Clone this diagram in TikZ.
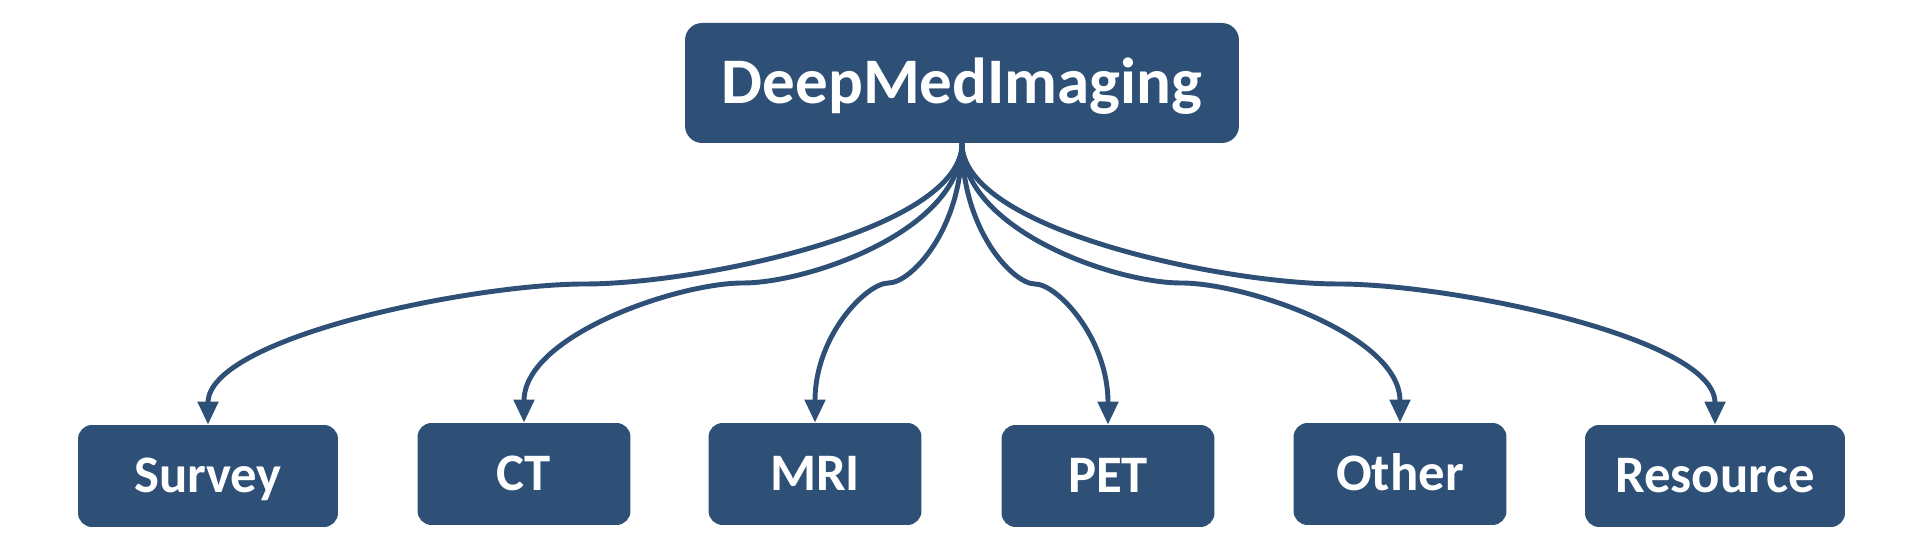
\documentclass[tikz,border=0pt]{standalone}
\usepackage{fontspec}
\setmainfont{Carlito}
\usetikzlibrary{arrows.meta, positioning, calc}
\definecolor{navy}{HTML}{2E5077}

\begin{document}
\begin{tikzpicture}[x = 0.02cm, y = 0.02cm,
    box/.style = {fill = navy, text = white, rounded corners = 0.28cm, inner sep = 0pt,
      minimum height = 2.04cm, text height = 19.3pt, text depth = 0pt,
      font = \bfseries\fontsize{30}{36}\selectfont},
    link/.style = {draw = navy, line width = 2.8pt,
      -{Triangle[length = 0.46cm, width = 0.4cm]}}]
  \useasboundingbox (0,0) rectangle (1920,546);
  \node[box, minimum width = 11.08cm, minimum height = 2.4cm, rounded corners = 0.34cm,
    text height = 23.8pt, font = \bfseries\fontsize{37}{44}\selectfont] (root) at (962,463) {DeepMedImaging};
  \node[box, minimum width = 5.2cm]  (survey)   at (208,70)  {Survey};
  \node[box, minimum width = 4.26cm] (ct)       at (524,72)  {CT};
  \node[box, minimum width = 4.26cm] (mri)      at (815,72)  {MRI};
  \node[box, minimum width = 4.26cm] (pet)      at (1108,70) {PET};
  \node[box, minimum width = 4.26cm] (other)    at (1400,72) {Other};
  \node[box, minimum width = 5.2cm]  (resource) at (1715,70) {Resource};
  \foreach \leaf in {survey, ct, mri, pet, other, resource} {
    \coordinate (m) at ($(root.south)!0.5!(\leaf.north)$);
    \draw[link] (root.south) .. controls +(0,-87) and ($(m)!0.3!(m -| root.south)$) .. (m)
      .. controls ($(m)!0.3!(m -| \leaf.north)$) and +(0,87) .. (\leaf.north);
  }
\end{tikzpicture}
\end{document}
